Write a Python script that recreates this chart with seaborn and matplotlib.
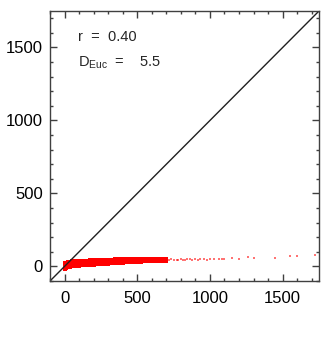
import matplotlib
matplotlib.use("Agg")
import matplotlib.pyplot as plt
import seaborn as sns
import numpy as np

# ---- data ----
band_x  = [0, 10, 25, 40, 50, 75, 100, 125, 150, 175, 200, 225, 250, 275, 300, 325, 350, 375, 400,
           425, 450, 475, 500, 525, 550, 575, 600, 625, 650, 675, 700]
band_lo = [-20, -12, -5, -2, 0, 3, 5, 8, 10, 12, 13, 15, 16, 18, 19, 21, 22, 24, 25,
           27, 28, 30, 31, 32, 34, 35, 36, 37, 38, 39, 40]
band_mid = [0, 8, 12, 15, 17, 19, 21, 23, 25, 27, 28, 29, 30, 31, 33, 34, 35, 36, 37,
            38, 39, 40, 40, 41, 42, 43, 43, 44, 45, 45, 46]
band_hi = [20, 26, 30, 33, 35, 37, 38, 39, 40, 42, 43, 44, 45, 46, 47, 47, 48, 49, 50,
           50, 51, 51, 51, 51, 52, 52, 52, 52, 52, 52, 52]
sparse_x = [720, 735, 750, 770, 780, 800, 815, 830, 845, 860, 880, 900, 915, 930, 960, 980,
            1000, 1030, 1060, 1080, 1100, 1150, 1200, 1260, 1300, 1450, 1550, 1600, 1720]
sparse_y = [44, 49, 46, 42, 44, 48, 44, 45, 50, 50, 47, 49, 45, 48, 50, 47,
            52, 51, 50, 53, 53, 55, 54, 62, 58, 60, 68, 72, 80]
diag = [-100, 1750]
ticks = [0, 500, 1000, 1500]
r_value = "0.40"
d_euc = "5.5"

sns.set_style("ticks")
plt.rcParams['font.family'] = ['Liberation Sans', 'DejaVu Sans']
plt.rcParams['mathtext.fontset'] = 'custom'
plt.rcParams['mathtext.rm'] = 'Liberation Sans'

fig = plt.figure(figsize=(3.27, 3.45), dpi=100)
ax = fig.add_axes([50/327, 1-281/345, (319-50)/327, (281-11)/345])

red = "#ff0000"
mids_lo = [(a + b) / 2 for a, b in zip(band_lo, band_mid)]
mids_hi = [(a + b) / 2 for a, b in zip(band_mid, band_hi)]
for ys in (band_lo, mids_lo, band_mid, mids_hi, band_hi):
    sns.scatterplot(x=band_x, y=ys, ax=ax, color=red, marker='s', s=6,
                    linewidth=0, legend=False)
sns.scatterplot(x=sparse_x, y=sparse_y, ax=ax, color=red, marker='s', s=3,
                linewidth=0, alpha=0.55, legend=False)
sns.lineplot(x=diag, y=diag, ax=ax, color='#202020', linewidth=1.0)

ax.set_xlim(-100, 1750)
ax.set_ylim(-100, 1750)
ax.set_xticks(ticks)
ax.set_yticks(ticks)
ax.set_xticks(np.arange(-100, 1751, 100), minor=True)
ax.set_yticks(np.arange(-100, 1751, 100), minor=True)
ax.tick_params(which='both', direction='in', top=True, right=True, colors='#404040',
               labelcolor='black', labelsize=12)
ax.tick_params(which='major', length=5, width=1)
ax.tick_params(which='minor', length=2.5, width=1)
ax.tick_params(axis='x', pad=7)
ax.tick_params(axis='y', pad=5)
for sp in ax.spines.values():
    sp.set_color('#404040')
    sp.set_linewidth(1.0)

ax.text(0.105, 0.905, "r  =  " + r_value, transform=ax.transAxes, fontsize=10.5,
        va='center', ha='left')
ax.text(0.105, 0.81, r"D$_{\mathregular{Euc}}$  =    " + d_euc, transform=ax.transAxes,
        fontsize=10.5, va='center', ha='left')

fig.savefig("out.png", dpi=100)
